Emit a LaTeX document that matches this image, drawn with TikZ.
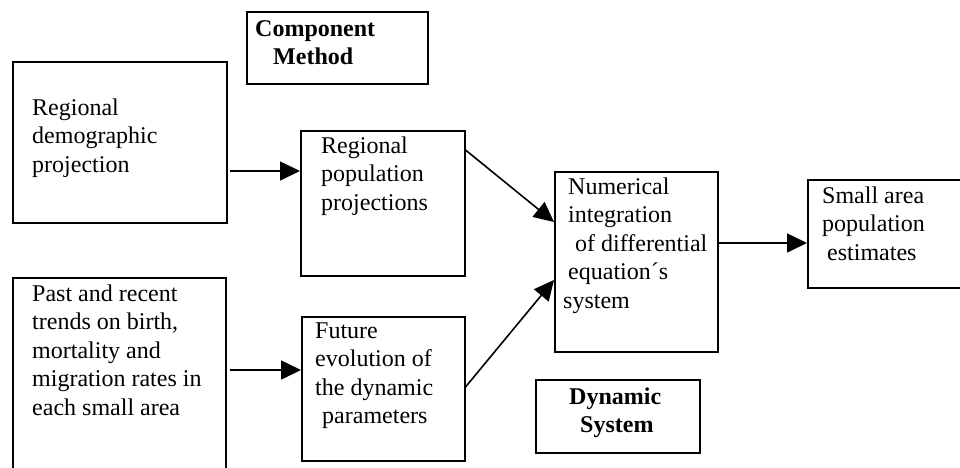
\documentclass[tikz,border=0pt]{standalone}
\usepackage{fontspec}
\setmainfont{Liberation Serif}
\usetikzlibrary{arrows.meta}
\tikzset{
  box/.style={draw, line width=1.5pt, inner sep=0pt, anchor=north west},
  txt/.style={inner sep=0pt, anchor=base west, font=\fontsize{24}{28.5}\selectfont},
  btxt/.style={txt, font=\fontsize{24}{28}\selectfont\bfseries},
  arr/.style={line width=1.6pt, -{Triangle[length=20pt,width=19pt]}}
}
\begin{document}
\begin{tikzpicture}[x=1pt,y=-1pt]
\useasboundingbox (0,0) rectangle (960,467);
\clip (0,0) rectangle (960,467);
% boxes
\node[box, minimum width=181pt, minimum height=72pt] (cm) at (246,11) {};
\node[box, minimum width=214pt, minimum height=161pt] (rd) at (12,61) {};
\node[box, minimum width=164pt, minimum height=145pt] (rp) at (300,130) {};
\node[box, minimum width=163pt, minimum height=180pt] (num) at (554,171) {};
\node[box, minimum width=180pt, minimum height=108pt] (sa) at (807,179) {};
\node[box, minimum width=213pt, minimum height=220pt] (pr) at (12,277) {};
\node[box, minimum width=163pt, minimum height=144pt] (fe) at (301,316) {};
\node[box, minimum width=164pt, minimum height=73pt] (ds) at (535,379) {};
% texts
\node[btxt] (tcm) at (255,36) {\vtop{\hbox{Component}\hbox{\kern18pt Method}}};
\node[txt] (trd) at (32,115) {\vtop{\hbox{Regional}\hbox{demographic}\hbox{projection}}};
\node[txt] (trp) at (321,153) {\vtop{\hbox{Regional}\hbox{population}\hbox{projections}}};
\node[txt] (tnum) at (563,194) {\vtop{\hbox{\kern5pt Numerical}\hbox{\kern5pt integration}\hbox{\kern12pt of differential}\hbox{\kern5pt equation´s}\hbox{system}}};
\node[txt] (tsa) at (822,203) {\vtop{\hbox{Small area}\hbox{population}\hbox{\kern5pt estimates}}};
\node[txt] (tpr) at (32,301) {\vtop{\hbox{Past and recent}\hbox{trends on birth,}\hbox{mortality and}\hbox{migration rates in}\hbox{each small area}}};
\node[txt] (tfe) at (315,338) {\vtop{\hbox{Future}\hbox{evolution of}\hbox{the dynamic}\hbox{\kern7pt parameters}}};
\node[btxt] (tds) at (569,404) {\vtop{\hbox{Dynamic}\hbox{\kern11pt System}}};
% connector end points
\coordinate (a1) at ([xshift=2pt,yshift=-110pt]rd.north east);
\coordinate (a2) at ([xshift=3pt,yshift=-93pt]pr.north east);
\coordinate (a3) at ([yshift=-20pt]rp.north east);
\coordinate (a3e) at ([yshift=-51pt]num.north west);
\coordinate (a4) at ([yshift=-71pt]fe.north east);
\coordinate (a4e) at ([yshift=-109pt]num.north west);
\coordinate (a5) at ([yshift=-72pt]num.north east);
% connectors
\draw[arr] (a1) -- (a1 -| rp.west);
\draw[arr] (a2) -- (a2 -| fe.west);
\draw[arr] (a3) -- (a3e);
\draw[arr] (a4) -- (a4e);
\draw[arr] (a5) -- (a5 -| sa.west);
\end{tikzpicture}
\end{document}
